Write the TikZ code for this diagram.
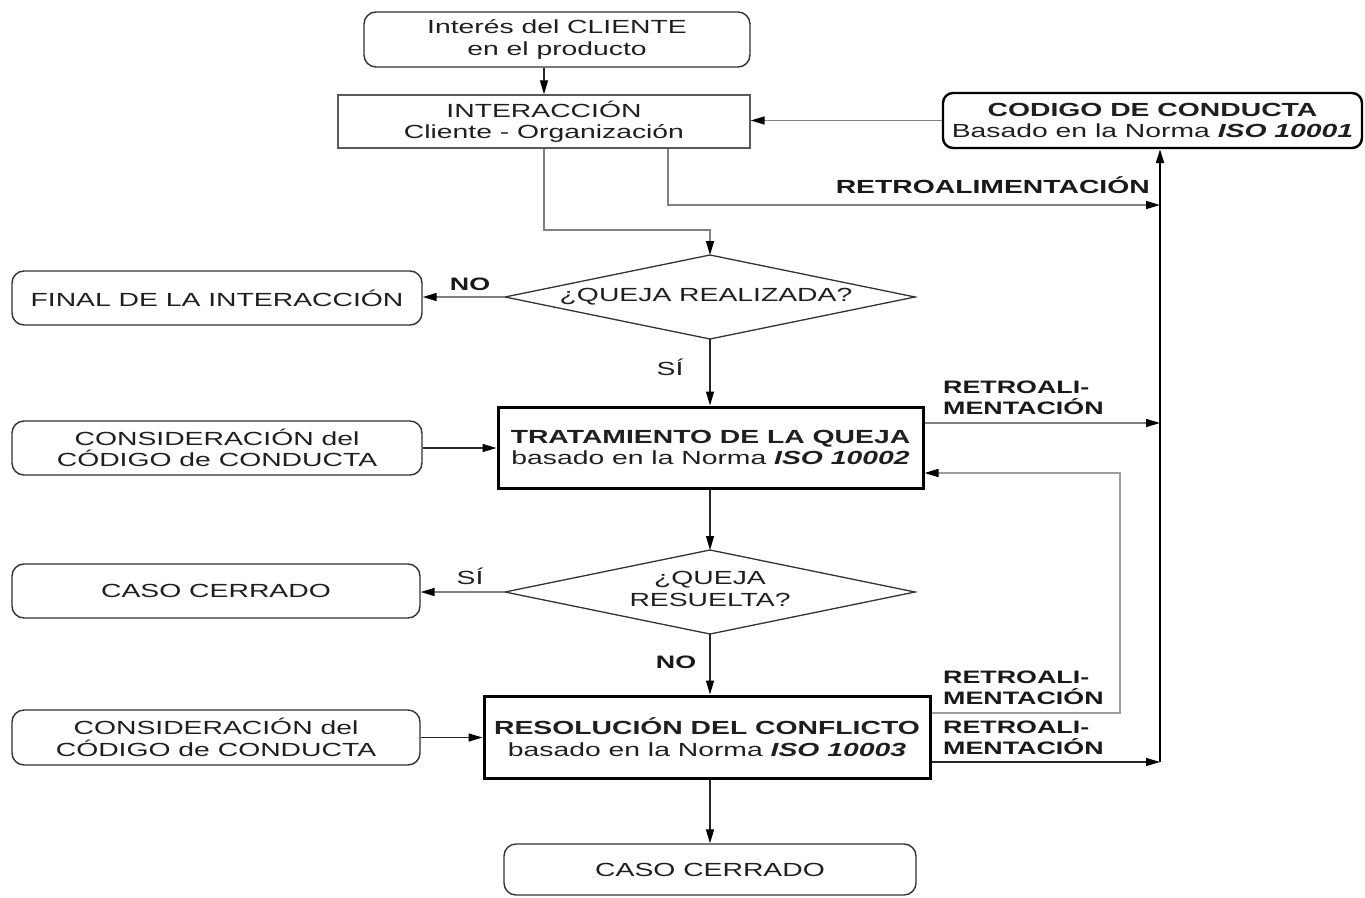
\documentclass[tikz,border=0pt]{standalone}
\usepackage{fontspec}
\setmainfont{Liberation Sans}[FakeStretch=1.49]
\usetikzlibrary{arrows.meta}

\begin{document}
\begin{tikzpicture}[x=1pt,y=-1pt,
  txt/.style={font=\fontsize{19}{21.5}\selectfont, text=black!88, align=center, inner sep=0pt},
  roundbox/.style={txt, draw=black!80, line width=1.4pt, rounded corners=12pt},
  plainbox/.style={txt, draw=black!65, line width=1.4pt},
  thickbox/.style={txt, draw=black, line width=3pt},
  codebox/.style={txt, draw=black, line width=2.4pt, rounded corners=10pt},
  diam/.style={draw=black!80, line width=1.3pt, line join=miter},
  tip/.style={-{Triangle[length=14pt,width=8pt,color=black]}},
  flow/.style={tip, draw=black!85, line width=1.3pt},
  spine/.style={tip, draw=black, line width=2pt},
  grayflow/.style={tip, draw=black!50, line width=1.5pt},
  lightflow/.style={tip, draw=black!38, line width=1.6pt},
  tag/.style={font=\bfseries\fontsize{18}{21}\selectfont, text=black!90, align=left, inner sep=0pt},
  yesno/.style={font=\fontsize{19}{21}\selectfont, text=black!88, inner sep=0pt},
]
\useasboundingbox (0,0) rectangle (1365,897);

% --- main column -------------------------------------------------------
\node[roundbox, minimum width=386pt, minimum height=55pt] (cliente) at (557,39.5)
  {Interés del CLIENTE\\en el producto};
\node[plainbox, minimum width=412pt, minimum height=53pt] (inter) at (544,121.5)
  {INTERACCIÓN\\Cliente - Organización};
\node[codebox, minimum width=419pt, minimum height=55pt] (codigo) at (1152.5,120.5)
  {\textbf{CODIGO DE CONDUCTA}\\Basado en la Norma \textbf{\textit{ISO 10001}}};

% first decision
\coordinate (d1n) at (710,255);
\coordinate (d1e) at (915,297);
\coordinate (d1s) at (710,339);
\coordinate (d1w) at (505,297);
\draw[diam] (d1n) -- (d1e) -- (d1s) -- (d1w) -- cycle;
\node[txt] (q1) at (706,297) {¿QUEJA REALIZADA?};

\node[roundbox, minimum width=410pt, minimum height=54pt] (final) at (217,298)
  {FINAL DE LA INTERACCIÓN};

\node[thickbox, minimum width=425pt, minimum height=81pt] (trat) at (710.5,447.5)
  {\textbf{TRATAMIENTO DE LA QUEJA}\\basado en la Norma \textbf{\textit{ISO 10002}}};
\node[roundbox, minimum width=410pt, minimum height=54pt] (cons1) at (217,448)
  {CONSIDERACIÓN del\\CÓDIGO de CONDUCTA};

% second decision
\coordinate (d2n) at (710,550);
\coordinate (d2e) at (915,592);
\coordinate (d2s) at (710,634);
\coordinate (d2w) at (505,592);
\draw[diam] (d2n) -- (d2e) -- (d2s) -- (d2w) -- cycle;
\node[txt] (q2) at (710,589) {¿QUEJA\\RESUELTA?};

\node[roundbox, minimum width=408pt, minimum height=54pt] (caso1) at (216,591)
  {CASO CERRADO};

\node[thickbox, minimum width=446pt, minimum height=82pt] (resol) at (707,737)
  {\textbf{RESOLUCIÓN DEL CONFLICTO}\\basado en la Norma \textbf{\textit{ISO 10003}}};
\node[roundbox, minimum width=408pt, minimum height=55pt] (cons2) at (216,737.5)
  {CONSIDERACIÓN del\\CÓDIGO de CONDUCTA};

\node[roundbox, minimum width=412pt, minimum height=51pt] (caso2) at (710,869.5)
  {CASO CERRADO};

% --- junction points of the feedback lines ------------------------------
\coordinate (j1) at (710,230);
\coordinate (r0) at (1160,205);
\coordinate (r1) at (1160,423);
\coordinate (r3) at (1160,762);
\coordinate (loopA) at (1120,713);
\coordinate (loopB) at (1120,473);

% --- connectors ---------------------------------------------------------
\draw[flow] (inter.north |- cliente.south) -- (inter.north);
\draw[grayflow] (inter.south) |- (j1) -- (d1n);
\draw[grayflow] ([xshift=124pt]inter.south) |- (r0);
\draw[grayflow] (codigo.west) -- (inter.east |- codigo.west);
\draw[spine] (r3) -- (r3 |- codigo.south);

\draw[grayflow] (d1w) -- (final.east |- d1w);
\draw[flow] (d1s) -- (trat.north -| d1s);
\draw[flow] (cons1.east) -- (trat.west |- cons1.east);
\draw[grayflow] (trat.east |- r1) -- (r1);

\draw[flow] (trat.south -| d2n) -- (d2n);
\draw[grayflow] (d2w) -- (caso1.east |- d2w);
\draw[flow] (d2s) -- (resol.north -| d2s);
\draw[flow] (cons2.east) -- (resol.west |- cons2.east);

\draw[lightflow] (resol.east |- loopA) -- (loopA) -- (loopB) -- (trat.east |- loopB);
\draw[flow] (resol.east |- r3) -- (r3);
\draw[flow] (resol.south -| d2s) -- (caso2.north -| d2s);

% --- labels ---------------------------------------------------------------
\node[tag, font=\bfseries\fontsize{19}{21}\selectfont, anchor=base east] (fb0) at (1150,193) {RETROALIMENTACIÓN};
\node[tag, anchor=north west] (fb1) at (943,380.5) {RETROALI-\\MENTACIÓN};
\node[tag, anchor=north west] (fb2) at (943,670.5) {RETROALI-\\MENTACIÓN};
\node[tag, anchor=north west] (fb3) at (943,720.5) {RETROALI-\\MENTACIÓN};

\node[tag] (no1) at (470,284) {NO};
\node[yesno, anchor=base] (si1) at (670,375) {SÍ};
\node[yesno, anchor=base] (si2) at (470,584) {SÍ};
\node[tag] (no2) at (676,662) {NO};
\end{tikzpicture}
\end{document}
